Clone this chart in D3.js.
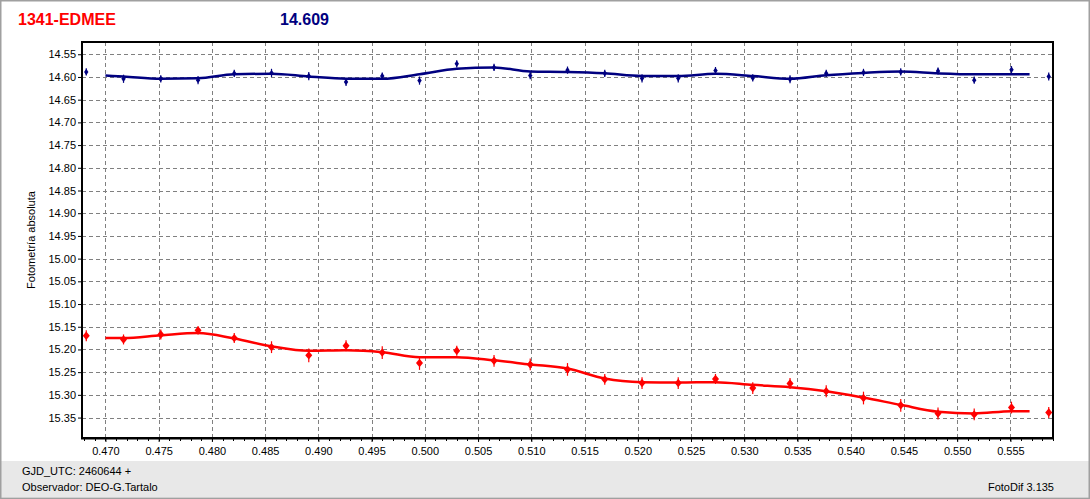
<!DOCTYPE html>
<html><head><meta charset="utf-8">
<script src="https://cdn.jsdelivr.net/npm/d3@7"></script>
<style>
html,body{margin:0;padding:0;background:#fff;}
svg{display:block;font-family:"Liberation Sans",Arial,sans-serif;}
</style></head>
<body>
<svg id="c" width="1090" height="499"></svg>
<script>
// ---- data ----
const titleName = "1341-EDMEE";
const titleMag = "14.609";
const yLabel = "Fotometría absoluta";
const footerLine1 = "GJD_UTC: 2460644 +";
const footerLine2 = "Observador: DEO-G.Tartalo";
const footerRight = "FotoDif 3.135";

const xTicks = [0.470,0.475,0.480,0.485,0.490,0.495,0.500,0.505,0.510,0.515,0.520,0.525,0.530,0.535,0.540,0.545,0.550,0.555];
const yTicks = [14.55,14.60,14.65,14.70,14.75,14.80,14.85,14.90,14.95,15.00,15.05,15.10,15.15,15.20,15.25,15.30,15.35];

const times = [0.4682,0.4717,0.4752,0.4787,0.4821,0.4856,0.4891,0.4926,0.4960,0.4995,0.5030,0.5065,0.5099,0.5134,0.5169,0.5204,0.5238,0.5273,0.5308,0.5343,0.5377,0.5412,0.5447,0.5482,0.5516,0.5551,0.5586];
const blueMag = [14.589,14.604,14.604,14.607,14.592,14.591,14.598,14.611,14.598,14.608,14.571,14.579,14.597,14.585,14.592,14.603,14.603,14.586,14.602,14.605,14.592,14.590,14.589,14.587,14.607,14.584,14.599];
const blueErr = [0.008,0.009,0.008,0.009,0.008,0.009,0.009,0.009,0.008,0.009,0.008,0.008,0.008,0.008,0.008,0.009,0.009,0.008,0.008,0.009,0.008,0.008,0.008,0.008,0.008,0.008,0.009];
const redMag = [15.170,15.178,15.167,15.158,15.175,15.195,15.213,15.192,15.207,15.230,15.203,15.225,15.233,15.244,15.266,15.274,15.274,15.265,15.285,15.275,15.292,15.307,15.323,15.341,15.343,15.328,15.339];
const redErr = [0.012,0.011,0.011,0.009,0.011,0.013,0.015,0.012,0.014,0.015,0.011,0.013,0.013,0.014,0.012,0.013,0.013,0.011,0.013,0.012,0.013,0.014,0.014,0.013,0.013,0.013,0.012];

const fitTimes = [0.4700,0.4717,0.4752,0.4787,0.4821,0.4856,0.4891,0.4926,0.4960,0.4995,0.5030,0.5065,0.5099,0.5134,0.5169,0.5204,0.5238,0.5273,0.5308,0.5343,0.5377,0.5412,0.5447,0.5482,0.5516,0.5551,0.5568];
const blueFit = [14.597,14.599,14.604,14.603,14.594,14.593,14.599,14.604,14.604,14.594,14.582,14.579,14.588,14.589,14.592,14.598,14.598,14.593,14.598,14.604,14.596,14.591,14.588,14.592,14.594,14.594,14.594];
const redFit = [15.175,15.175,15.169,15.164,15.176,15.193,15.203,15.202,15.206,15.217,15.217,15.224,15.233,15.242,15.264,15.272,15.273,15.272,15.278,15.283,15.292,15.306,15.322,15.337,15.341,15.336,15.336];

// ---- drawing ----
const svg = d3.select("#c");
const W = 1090, H = 499;
const L = 82, R = 1053, T = 42, B = 438;

// outer frame & footer
svg.append("rect").attr("x",0).attr("y",0).attr("width",W).attr("height",H).attr("fill","#fff");
svg.append("rect").attr("x",1).attr("y",461).attr("width",W-2).attr("height",36).attr("fill","#e8e8e8");
svg.append("rect").attr("x",0.5).attr("y",0.5).attr("width",W-1).attr("height",H-1)
  .attr("fill","none").attr("stroke","#a0a0a0").attr("stroke-width",2);

const x = d3.scaleLinear().domain([0.4678,0.5590]).range([L,R]);
const y = d3.scaleLinear().domain([14.523,15.395]).range([T,B]);

// grid
const g = svg.append("g");
g.selectAll(".hg").data(yTicks).join("line")
  .attr("x1",L).attr("x2",R).attr("y1",d=>Math.round(y(d))+0.5).attr("y2",d=>Math.round(y(d))+0.5)
  .attr("stroke","#808080").attr("stroke-dasharray","4,3").attr("stroke-width",1);
g.selectAll(".vg").data(xTicks).join("line")
  .attr("y1",T).attr("y2",B).attr("x1",d=>Math.round(x(d))+0.5).attr("x2",d=>Math.round(x(d))+0.5)
  .attr("stroke","#808080").attr("stroke-dasharray","4,3").attr("stroke-width",1);

// axes
const xAxis = d3.axisBottom(x).tickValues(xTicks).tickFormat(d3.format(".3f")).tickSize(4).tickPadding(5);
const ax = svg.append("g").attr("transform",`translate(0,${B})`).call(xAxis);
const minorX = d3.range(0.468,0.559,0.001);
svg.append("g").selectAll("line").data(minorX).join("line")
  .attr("x1",d=>Math.round(x(d))+0.5).attr("x2",d=>Math.round(x(d))+0.5)
  .attr("y1",B).attr("y2",B+3).attr("stroke","#000");
const yAxis = d3.axisLeft(y).tickValues(yTicks).tickFormat(d3.format(".2f")).tickSize(4).tickPadding(2);
const ay = svg.append("g").attr("transform",`translate(${L},0)`).call(yAxis);
[ax,ay].forEach(a=>{
  a.select(".domain").remove();
  a.selectAll("text").attr("font-size","11px").attr("fill","#000").attr("font-family","Liberation Sans, Arial, sans-serif");
  a.selectAll(".tick line").attr("stroke","#000");
});
ax.selectAll("text").attr("dy","0.71em");

// plot frame
svg.append("rect").attr("x",L).attr("y",T).attr("width",R-L).attr("height",B-T)
  .attr("fill","none").attr("stroke","#000").attr("stroke-width",2);
svg.append("line").attr("x1",L-1).attr("x2",R+1).attr("y1",B+0.5).attr("y2",B+0.5).attr("stroke","#000").attr("stroke-width",2);

// series
function drawSeries(mag, err, fit, color, hw, hh){
  const line = d3.line().x((d,i)=>x(fitTimes[i])).y(d=>y(d)).curve(d3.curveMonotoneX);
  svg.append("path").datum(fit).attr("d",line).attr("fill","none")
    .attr("stroke",color).attr("stroke-width",2.5);
  const pts = times.map((t,i)=>({t, m:mag[i], e:err[i]}));
  const gp = svg.append("g");
  gp.selectAll("line").data(pts).join("line")
    .attr("x1",d=>x(d.t)).attr("x2",d=>x(d.t))
    .attr("y1",d=>y(d.m-d.e)).attr("y2",d=>y(d.m+d.e))
    .attr("stroke",color).attr("stroke-width",1.2);
  gp.selectAll("path").data(pts).join("path")
    .attr("d",d=>{const cx=x(d.t), cy=y(d.m);
      return `M${cx},${cy-hh}L${cx+hw},${cy}L${cx},${cy+hh}L${cx-hw},${cy}Z`;})
    .attr("fill",color);
}
drawSeries(blueMag, blueErr, blueFit, "#000080", 2.2, 3.2);
drawSeries(redMag, redErr, redFit, "#ff0000", 3.5, 4.2);

// titles
svg.append("text").attr("x",18).attr("y",25).attr("fill","#ff0000").attr("font-size","16px").attr("font-weight","bold").text(titleName);
svg.append("text").attr("x",280).attr("y",25).attr("fill","#000080").attr("font-size","16px").attr("font-weight","bold").text(titleMag);

svg.append("text").attr("transform","translate(35,240) rotate(-90)").attr("text-anchor","middle")
  .attr("font-size","11px").attr("fill","#000").text(yLabel);

// footer text
svg.append("text").attr("x",22).attr("y",475).attr("font-size","11px").attr("fill","#000").text(footerLine1);
svg.append("text").attr("x",22).attr("y",491).attr("font-size","11px").attr("fill","#000").text(footerLine2);
svg.append("text").attr("x",1054).attr("y",491).attr("text-anchor","end").attr("font-size","11px").attr("fill","#000").text(footerRight);
</script>
</body></html>
